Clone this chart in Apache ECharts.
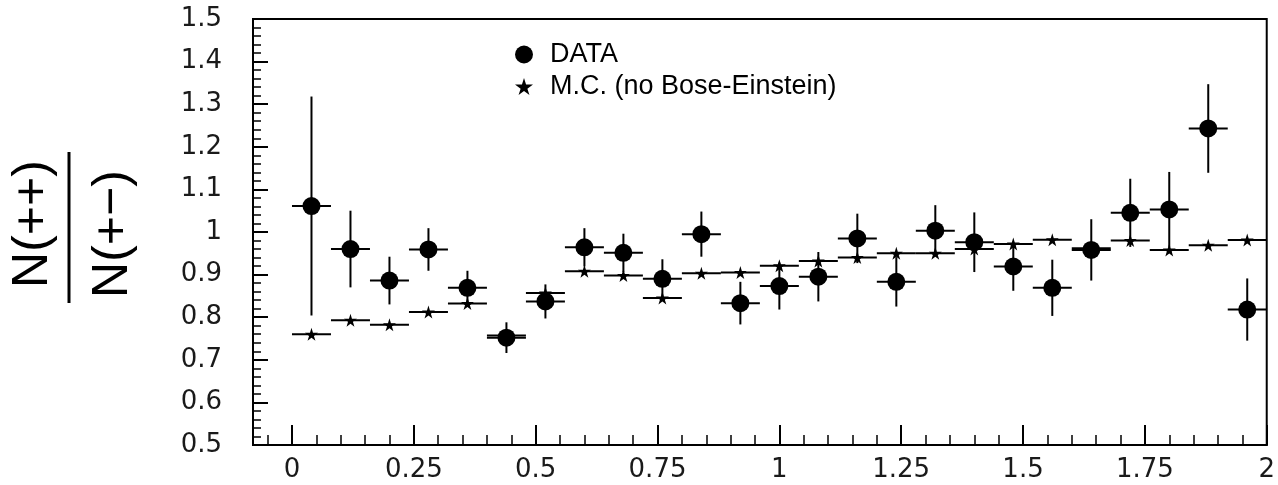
<!DOCTYPE html>
<html>
<head>
<meta charset="utf-8">
<script src="https://cdn.jsdelivr.net/npm/echarts@6/dist/echarts.min.js"></script>
<style>
  html, body { margin: 0; padding: 0; background: #fff; }
  #chart { width: 1278px; height: 485px; }
</style>
</head>
<body>
<div id="chart"></div>
<script>
// bin centres (bin width 0.08)
var xCenters = [0.04, 0.12, 0.20, 0.28, 0.36, 0.44, 0.52, 0.60, 0.68, 0.76, 0.84, 0.92, 1.00,
                1.08, 1.16, 1.24, 1.32, 1.40, 1.48, 1.56, 1.64, 1.72, 1.80, 1.88, 1.96];
var halfBin = 0.04;

// DATA points and their errors
var dataY   = [1.061, 0.960, 0.886, 0.959, 0.869, 0.752, 0.837, 0.964, 0.951, 0.890, 0.995, 0.833, 0.873,
               0.895, 0.985, 0.883, 1.003, 0.976, 0.919, 0.869, 0.958, 1.045, 1.053, 1.243, 0.818];
var dataErr = [0.257, 0.090, 0.056, 0.050, 0.040, 0.036, 0.040, 0.045, 0.045, 0.046, 0.053, 0.050, 0.055,
               0.058, 0.058, 0.058, 0.060, 0.070, 0.057, 0.066, 0.072, 0.080, 0.088, 0.104, 0.073];

// M.C. (no Bose-Einstein)
var mcY = [0.760, 0.793, 0.782, 0.812, 0.832, 0.757, 0.857, 0.908, 0.898, 0.845, 0.903, 0.905, 0.921,
           0.932, 0.940, 0.950, 0.950, 0.960, 0.972, 0.982, 0.962, 0.980, 0.958, 0.969, 0.981];

var xMajorTicks = [0, 0.25, 0.5, 0.75, 1, 1.25, 1.5, 1.75, 2];
var xMinorTicks = [-0.05, 0.05, 0.1, 0.15, 0.2, 0.3, 0.35, 0.4, 0.45, 0.55, 0.6, 0.65, 0.7,
                   0.8, 0.85, 0.9, 0.95, 1.05, 1.1, 1.15, 1.2, 1.3, 1.35, 1.4, 1.45,
                   1.55, 1.6, 1.65, 1.7, 1.8, 1.85, 1.9, 1.95];

var starPath = 'path://M50,0 L61,35 L98,35 L68,57 L79,91 L50,70 L21,91 L32,57 L2,35 L39,35 Z';
var fontName = 'Liberation Sans';
var tickFont = 'DejaVu Sans';

var dataPts = [], mcPts = [];
for (var i = 0; i < xCenters.length; i++) {
    dataPts.push([xCenters[i], dataY[i], dataErr[i]]);
    mcPts.push([xCenters[i], mcY[i], 0]);
}

function errBars(params, api) {
    var x = api.value(0), y = api.value(1), e = api.value(2);
    var l = api.coord([x - halfBin, y]);
    var r = api.coord([x + halfBin, y]);
    var st = { stroke: '#000', lineWidth: 2 };
    var kids = [{ type: 'line', shape: { x1: l[0], y1: l[1], x2: r[0], y2: r[1] }, style: st }];
    if (e > 0) {
        var t = api.coord([x, y + e]);
        var b = api.coord([x, y - e]);
        kids.push({ type: 'line', shape: { x1: t[0], y1: t[1], x2: b[0], y2: b[1] }, style: st });
    }
    return { type: 'group', children: kids };
}

var myChart = echarts.init(document.getElementById('chart'));

var option = {
    backgroundColor: '#fff',
    animation: false,
    grid: {
        left: 253, right: 8, top: 19, bottom: 40,
        show: true, borderColor: '#000', borderWidth: 2, backgroundColor: 'transparent'
    },
    legend: {
        left: 510, top: 36,
        orient: 'vertical',
        itemWidth: 18, itemHeight: 18, itemGap: 5,
        textStyle: { fontSize: 27, fontFamily: fontName, color: '#000', padding: [0, 0, 0, 12] },
        data: [
            { name: 'DATA', icon: 'circle' },
            { name: 'M.C. (no Bose-Einstein)', icon: starPath }
        ]
    },
    xAxis: [
        {
            type: 'value', min: -0.08, max: 2,
            splitLine: { show: false },
            axisLine: { show: true, onZero: false, lineStyle: { color: '#000', width: 2 } },
            axisTick: { inside: true, length: 20, customValues: xMajorTicks, lineStyle: { color: '#000', width: 2 } },
            axisLabel: {
                customValues: xMajorTicks, margin: 12,
                fontSize: 26, fontFamily: tickFont, color: '#1a1a1a',
                formatter: function (v) { return String(parseFloat(v.toFixed(2))); }
            }
        },
        {
            type: 'value', min: -0.08, max: 2, position: 'bottom',
            splitLine: { show: false },
            axisLine: { show: false, onZero: false },
            axisTick: { inside: true, length: 10, customValues: xMinorTicks, lineStyle: { color: '#000', width: 1.5 } },
            axisLabel: { show: false }
        }
    ],
    yAxis: {
        type: 'value', min: 0.5, max: 1.5, interval: 0.1,
        splitLine: { show: false },
        axisLine: { show: true, onZero: false, lineStyle: { color: '#000', width: 2 } },
        axisTick: { inside: true, length: 15, lineStyle: { color: '#000', width: 2 } },
        minorTick: { show: true, splitNumber: 5, length: 8, lineStyle: { color: '#000', width: 1.5 } },
        axisLabel: {
            margin: 31, fontSize: 26, fontFamily: tickFont, color: '#1a1a1a',
            formatter: function (v) { return String(parseFloat(v.toFixed(1))); }
        }
    },
    graphic: [
        {
            type: 'text', x: 33, y: 224, rotation: Math.PI / 2,
            style: { text: 'N(++)', fontSize: 50, fontFamily: fontName, fill: '#000', align: 'center', verticalAlign: 'middle' }
        },
        {
            type: 'line', shape: { x1: 69, y1: 152, x2: 69, y2: 303 },
            style: { stroke: '#000', lineWidth: 3 }
        },
        {
            type: 'text', x: 113, y: 234, rotation: Math.PI / 2,
            style: { text: 'N(+\u2212)', fontSize: 50, fontFamily: fontName, fill: '#000', align: 'center', verticalAlign: 'middle' }
        }
    ],
    series: [
        {
            name: 'mcErr', type: 'custom', renderItem: errBars, data: mcPts,
            encode: { x: 0, y: 1 }, z: 2, silent: true
        },
        {
            name: 'dataErr', type: 'custom', renderItem: errBars, data: dataPts,
            encode: { x: 0, y: 1 }, z: 3, silent: true
        },
        {
            name: 'M.C. (no Bose-Einstein)', type: 'scatter', symbol: starPath, symbolSize: 13,
            itemStyle: { color: '#000', opacity: 1 }, data: mcPts, z: 4
        },
        {
            name: 'DATA', type: 'scatter', symbol: 'circle', symbolSize: 18,
            itemStyle: { color: '#000', opacity: 1 }, data: dataPts, z: 5
        }
    ]
};

myChart.setOption(option);
</script>
</body>
</html>
